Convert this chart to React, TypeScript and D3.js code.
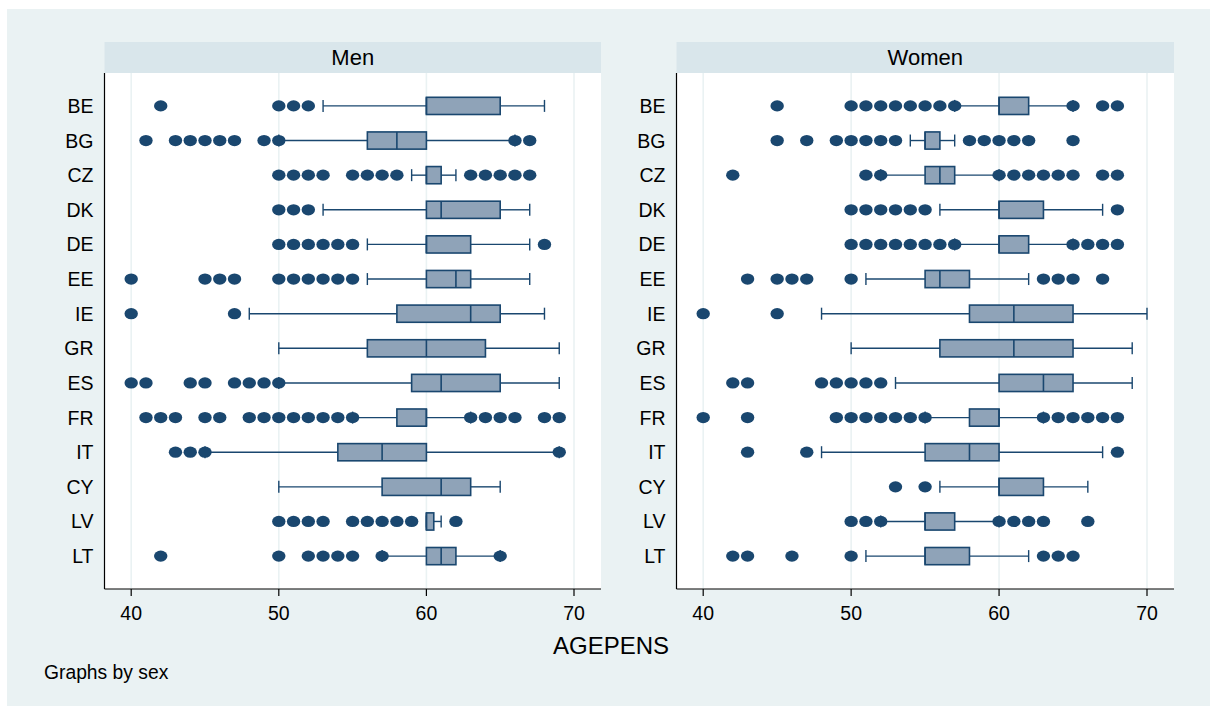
import React from "react";
import * as d3 from "d3";

const categories = ["BE","BG","CZ","DK","DE","EE","IE","GR","ES","FR","IT","CY","LV","LT"];
const xTicks = [40, 50, 60, 70];
const panels = ["Men", "Women"];

// [lowerWhisker, q1, median, q3, upperWhisker] per category
const menStats: number[][] = [
  [53, 60, 60, 65, 68],
  [50, 56, 58, 60, 66],
  [59, 60, 60, 61, 62],
  [53, 60, 61, 65, 67],
  [56, 60, 60, 63, 67],
  [56, 60, 62, 63, 67],
  [48, 58, 63, 65, 68],
  [50, 56, 60, 64, 69],
  [50, 59, 61, 65, 69],
  [55, 58, 60, 60, 63],
  [45, 54, 57, 60, 69],
  [50, 57, 61, 63, 65],
  [60, 60, 60, 60.5, 61],
  [57, 60, 61, 62, 65],
];
const menOutliers: number[][] = [
  [42, 50, 51, 52],
  [41, 43, 44, 45, 46, 47, 49, 50, 66, 67],
  [50, 51, 52, 53, 55, 56, 57, 58, 63, 64, 65, 66, 67],
  [50, 51, 52],
  [50, 51, 52, 53, 54, 55, 68],
  [40, 45, 46, 47, 50, 51, 52, 53, 54, 55],
  [40, 47],
  [],
  [40, 41, 44, 45, 47, 48, 49, 50],
  [41, 42, 43, 45, 46, 48, 49, 50, 51, 52, 53, 54, 55, 63, 64, 65, 66, 68, 69],
  [43, 44, 45, 69],
  [],
  [50, 51, 52, 53, 55, 56, 57, 58, 59, 62],
  [42, 50, 52, 53, 54, 55, 57, 65],
];
const womenStats: number[][] = [
  [57, 60, 60, 62, 65],
  [54, 55, 55, 56, 57],
  [52, 55, 56, 57, 60],
  [56, 60, 60, 63, 67],
  [57, 60, 60, 62, 65],
  [51, 55, 56, 58, 62],
  [48, 58, 61, 65, 70],
  [50, 56, 61, 65, 69],
  [53, 60, 63, 65, 69],
  [55, 58, 60, 60, 63],
  [48, 55, 58, 60, 67],
  [56, 60, 60, 63, 66],
  [52, 55, 55, 57, 60],
  [51, 55, 55, 58, 62],
];
const womenOutliers: number[][] = [
  [45, 50, 51, 52, 53, 54, 55, 56, 57, 65, 67, 68],
  [45, 47, 49, 50, 51, 52, 53, 58, 59, 60, 61, 62, 65],
  [42, 51, 52, 60, 61, 62, 63, 64, 65, 67, 68],
  [50, 51, 52, 53, 54, 55, 68],
  [50, 51, 52, 53, 54, 55, 56, 57, 65, 66, 67, 68],
  [43, 45, 46, 47, 50, 63, 64, 65, 67],
  [40, 45],
  [],
  [42, 43, 48, 49, 50, 51, 52],
  [40, 43, 49, 50, 51, 52, 53, 54, 55, 63, 64, 65, 66, 67, 68],
  [43, 47, 68],
  [53, 55],
  [50, 51, 52, 60, 61, 62, 63, 66],
  [42, 43, 46, 50, 63, 64, 65],
];

const NAVY = "#1A476F";
const BOXFILL = "#8FA3B8";
const BG = "#EAF2F3";
const STRIP = "#D9E6EB";
const FONT = "'Liberation Sans', Arial, sans-serif";

const W = 1210, H = 706;
const plotTop = 73, plotBottom = 589;
const panelBoxes = [
  { left: 104.5, right: 601 },
  { left: 676.5, right: 1174 },
];

function Panel({ idx }: { idx: number }) {
  const { left, right } = panelBoxes[idx];
  const stats = idx === 0 ? menStats : womenStats;
  const outs = idx === 0 ? menOutliers : womenOutliers;
  const x = d3.scaleLinear().domain([40, 70]).range([left + 26.7, right - 27]);
  const y = d3.scalePoint<string>().domain(categories).range([plotTop, plotBottom]).padding(0.95);
  const boxH = 8.6, capH = 6;
  return (
    <g>
      <rect x={left} y={42} width={right - left} height={plotTop - 42} fill={STRIP} />
      <text x={(left + right) / 2} y={65} textAnchor="middle" fontSize={22} fontFamily={FONT} fill="#000">{panels[idx]}</text>
      <rect x={left} y={plotTop} width={right - left} height={plotBottom - plotTop} fill="#fff" />
      {xTicks.map((t) => (
        <line key={"g" + t} x1={x(t)} x2={x(t)} y1={plotTop} y2={plotBottom} stroke={BG} strokeWidth={1.6} />
      ))}
      {categories.map((c, i) => {
        const [lw, q1, med, q3, uw] = stats[i];
        const cy = y(c)!;
        return (
          <g key={c}>
            <line x1={x(lw)} x2={x(q1)} y1={cy} y2={cy} stroke={NAVY} strokeWidth={1.4} />
            <line x1={x(q3)} x2={x(uw)} y1={cy} y2={cy} stroke={NAVY} strokeWidth={1.4} />
            <line x1={x(lw)} x2={x(lw)} y1={cy - capH} y2={cy + capH} stroke={NAVY} strokeWidth={1.4} />
            <line x1={x(uw)} x2={x(uw)} y1={cy - capH} y2={cy + capH} stroke={NAVY} strokeWidth={1.4} />
            <rect x={x(q1)} y={cy - boxH} width={x(q3) - x(q1)} height={boxH * 2} fill={BOXFILL} stroke={NAVY} strokeWidth={1.6} />
            <line x1={x(med)} x2={x(med)} y1={cy - boxH} y2={cy + boxH} stroke={NAVY} strokeWidth={1.6} />
            {outs[i].map((v, j) => (
              <ellipse key={j} cx={x(v)} cy={cy} rx={6.7} ry={5.6} fill={NAVY} />
            ))}
            <text x={left - 11} y={cy + 7} textAnchor="end" fontSize={19.5} fontFamily={FONT} fill="#000">{c}</text>
          </g>
        );
      })}
      <line x1={left} x2={left} y1={plotTop} y2={plotBottom} stroke="#000" strokeWidth={1.2} />
      <line x1={left} x2={right} y1={plotBottom} y2={plotBottom} stroke="#000" strokeWidth={1.2} />
      {xTicks.map((t) => (
        <g key={"t" + t}>
          <line x1={x(t)} x2={x(t)} y1={plotBottom} y2={plotBottom + 7} stroke="#000" strokeWidth={1.2} />
          <text x={x(t)} y={620} textAnchor="middle" fontSize={19.5} fontFamily={FONT} fill="#000">{t}</text>
        </g>
      ))}
    </g>
  );
}

export default function App() {
  return (
    <svg width={W} height={H} style={{ position: "absolute", left: 0, top: 0 }}>
      <rect x={0} y={0} width={W} height={H} fill="#fff" />
      <rect x={7} y={9} width={W - 7} height={H - 9} fill={BG} />
      <Panel idx={0} />
      <Panel idx={1} />
      <text x={611} y={654} textAnchor="middle" fontSize={24} fontFamily={FONT} fill="#000">AGEPENS</text>
      <text x={44} y={679} fontSize={19.3} fontFamily={FONT} fill="#000">Graphs by sex</text>
    </svg>
  );
}
